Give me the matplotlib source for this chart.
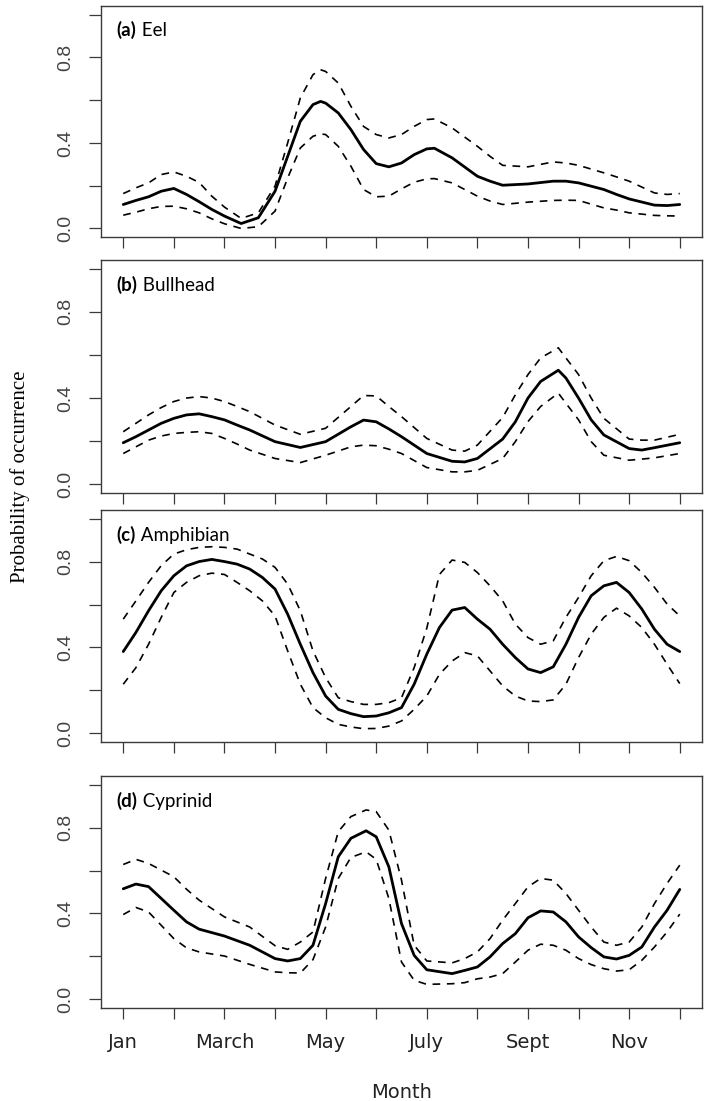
import matplotlib
matplotlib.use("Agg")
import matplotlib.pyplot as plt

# ---------------- data ----------------
month_ticks = [1, 2, 3, 4, 5, 6, 7, 8, 9, 10, 11, 12]
month_labels = ["Jan", "", "March", "", "May", "", "July", "", "Sept", "", "Nov", ""]
y_ticks = [0.0, 0.2, 0.4, 0.6, 0.8, 1.0]
y_labels = ["0.0", "", "0.4", "", "0.8", ""]
panel_tags = ["(a)", "(b)", "(c)", "(d)"]
panel_names = ["Eel", "Bullhead", "Amphibian", "Cyprinid"]

# (a) Eel
months_a = [1, 1.25, 1.5, 1.75, 2, 2.25, 2.5, 2.75, 3, 3.33, 3.67, 4, 4.25, 4.5, 4.75, 4.9,
            5, 5.25, 5.5, 5.75, 6, 6.25, 6.5, 6.75, 7, 7.15, 7.5, 8, 8.25, 8.5, 9, 9.5,
            9.75, 10, 10.5, 10.75, 11, 11.5, 11.75, 12]
fit_a = [0.112, 0.131, 0.148, 0.174, 0.187, 0.159, 0.125, 0.089, 0.058, 0.023, 0.05, 0.174,
         0.337, 0.501, 0.579, 0.594, 0.586, 0.54, 0.462, 0.369, 0.303, 0.288, 0.306, 0.345,
         0.372, 0.375, 0.33, 0.244, 0.221, 0.202, 0.208, 0.221, 0.221, 0.213, 0.182, 0.159,
         0.138, 0.109, 0.107, 0.112]
upper_a = [0.163, 0.19, 0.213, 0.252, 0.264, 0.244, 0.215, 0.151, 0.1, 0.047, 0.073, 0.198,
           0.40, 0.61, 0.719, 0.742, 0.734, 0.68, 0.571, 0.477, 0.439, 0.423, 0.439, 0.477,
           0.509, 0.512, 0.47, 0.384, 0.337, 0.295, 0.288, 0.311, 0.306, 0.295, 0.26, 0.241,
           0.221, 0.166, 0.159, 0.163]
lower_a = [0.062, 0.076, 0.092, 0.103, 0.104, 0.092, 0.073, 0.045, 0.022, 0.0, 0.008, 0.081,
           0.236, 0.376, 0.431, 0.442, 0.439, 0.384, 0.291, 0.182, 0.148, 0.151, 0.185, 0.216,
           0.232, 0.233, 0.213, 0.151, 0.128, 0.112, 0.123, 0.131, 0.132, 0.131, 0.096, 0.086,
           0.073, 0.061, 0.059, 0.058]

# (b) Bullhead
months_b = [1, 1.25, 1.5, 1.75, 2, 2.25, 2.5, 2.75, 3, 3.25, 3.5, 4, 4.5, 5, 5.5, 5.75, 6,
            6.25, 6.5, 7, 7.5, 7.75, 8, 8.5, 8.75, 9, 9.25, 9.6, 9.75, 10, 10.25, 10.5, 11,
            11.25, 11.5, 12]
fit_b = [0.193, 0.221, 0.252, 0.283, 0.306, 0.322, 0.327, 0.314, 0.299, 0.275, 0.252, 0.198,
         0.171, 0.198, 0.267, 0.298, 0.29, 0.257, 0.221, 0.143, 0.107, 0.104, 0.12, 0.21,
         0.29, 0.40, 0.477, 0.529, 0.493, 0.40, 0.299, 0.229, 0.166, 0.159, 0.17, 0.193]
upper_b = [0.244, 0.283, 0.322, 0.356, 0.384, 0.40, 0.407, 0.40, 0.384, 0.361, 0.337, 0.275,
           0.232, 0.26, 0.361, 0.412, 0.41, 0.361, 0.314, 0.213, 0.159, 0.154, 0.182, 0.31,
           0.415, 0.509, 0.586, 0.633, 0.586, 0.509, 0.40, 0.306, 0.21, 0.205, 0.205, 0.232]
lower_b = [0.143, 0.174, 0.205, 0.224, 0.236, 0.241, 0.244, 0.236, 0.213, 0.187, 0.159, 0.12,
           0.101, 0.135, 0.174, 0.182, 0.179, 0.163, 0.143, 0.078, 0.058, 0.058, 0.065, 0.12,
           0.198, 0.291, 0.361, 0.423, 0.376, 0.299, 0.198, 0.135, 0.112, 0.117, 0.123, 0.143]

# (c) Amphibian
months_c = [1, 1.25, 1.5, 1.75, 2, 2.25, 2.5, 2.75, 3, 3.25, 3.5, 3.75, 4, 4.25, 4.5, 4.75,
            5, 5.25, 5.5, 5.75, 6, 6.25, 6.5, 6.75, 7, 7.25, 7.5, 7.75, 8, 8.25, 8.5, 8.75,
            9, 9.25, 9.5, 9.75, 10, 10.25, 10.5, 10.75, 11, 11.25, 11.5, 11.75, 12]
fit_c = [0.381, 0.47, 0.571, 0.664, 0.734, 0.78, 0.80, 0.81, 0.80, 0.788, 0.765, 0.726, 0.672,
         0.555, 0.415, 0.283, 0.174, 0.112, 0.092, 0.078, 0.081, 0.096, 0.12, 0.229, 0.369,
         0.493, 0.574, 0.586, 0.532, 0.485, 0.415, 0.353, 0.30, 0.283, 0.31, 0.415, 0.54,
         0.641, 0.687, 0.703, 0.656, 0.579, 0.485, 0.415, 0.381]
upper_c = [0.532, 0.617, 0.703, 0.781, 0.835, 0.855, 0.866, 0.869, 0.866, 0.858, 0.835, 0.812,
           0.773, 0.695, 0.571, 0.384, 0.26, 0.166, 0.148, 0.135, 0.135, 0.143, 0.166, 0.306,
           0.49, 0.74, 0.807, 0.796, 0.749, 0.687, 0.617, 0.509, 0.446, 0.415, 0.431, 0.54,
           0.633, 0.734, 0.804, 0.824, 0.804, 0.749, 0.68, 0.602, 0.547]
lower_c = [0.229, 0.306, 0.415, 0.54, 0.656, 0.703, 0.734, 0.746, 0.74, 0.703, 0.664, 0.617,
           0.547, 0.384, 0.229, 0.12, 0.073, 0.042, 0.03, 0.022, 0.023, 0.034, 0.058, 0.112,
           0.174, 0.275, 0.337, 0.376, 0.361, 0.291, 0.221, 0.174, 0.151, 0.148, 0.156, 0.229,
           0.353, 0.462, 0.54, 0.583, 0.547, 0.493, 0.415, 0.322, 0.232]

# (d) Cyprinid
months_d = [1, 1.25, 1.5, 2, 2.25, 2.5, 3, 3.5, 4, 4.25, 4.5, 4.75, 5, 5.25, 5.5, 5.8, 6,
            6.25, 6.5, 6.75, 7, 7.5, 7.75, 8, 8.25, 8.5, 8.75, 9, 9.25, 9.5, 9.75, 10, 10.25,
            10.5, 10.75, 11, 11.25, 11.5, 11.75, 12]
fit_d = [0.515, 0.537, 0.525, 0.415, 0.361, 0.327, 0.295, 0.252, 0.19, 0.179, 0.19, 0.252,
         0.446, 0.664, 0.75, 0.785, 0.757, 0.617, 0.353, 0.205, 0.138, 0.12, 0.135, 0.151,
         0.198, 0.26, 0.306, 0.38, 0.412, 0.407, 0.361, 0.291, 0.241, 0.198, 0.188, 0.205,
         0.244, 0.337, 0.415, 0.512]
upper_d = [0.628, 0.652, 0.633, 0.571, 0.513, 0.462, 0.384, 0.337, 0.25, 0.233, 0.267, 0.314,
           0.563, 0.781, 0.851, 0.882, 0.874, 0.788, 0.555, 0.252, 0.179, 0.17, 0.19, 0.221,
           0.283, 0.369, 0.446, 0.524, 0.563, 0.555, 0.493, 0.415, 0.337, 0.267, 0.252, 0.267,
           0.337, 0.446, 0.54, 0.625]
lower_d = [0.395, 0.428, 0.407, 0.283, 0.24, 0.221, 0.202, 0.163, 0.128, 0.124, 0.123, 0.185,
           0.337, 0.563, 0.661, 0.687, 0.652, 0.47, 0.174, 0.089, 0.07, 0.073, 0.078, 0.096,
           0.104, 0.12, 0.174, 0.229, 0.257, 0.252, 0.229, 0.19, 0.162, 0.143, 0.132, 0.138,
           0.182, 0.244, 0.314, 0.397]

panels = [
    (months_a, fit_a, upper_a, lower_a),
    (months_b, fit_b, upper_b, lower_b),
    (months_c, fit_c, upper_c, lower_c),
    (months_d, fit_d, upper_d, lower_d),
]

# ---------------- layout ----------------
W, H = 709, 1101
fig = plt.figure(figsize=(W / 100, H / 100), dpi=100)
left_px, right_px = 101, 702
boxes_px = [(6, 237), (260, 493), (510, 742), (776, 1008)]

frame_col = "#3a3a3a"
tick_col = "#3a3a3a"

for i, ((mx, fit, up, lo), (top, bot)) in enumerate(zip(panels, boxes_px)):
    ax = fig.add_axes([left_px / W, 1 - bot / H, (right_px - left_px) / W, (bot - top) / H])
    ax.plot(mx, fit, color="black", lw=2.0, solid_joinstyle="round", solid_capstyle="round")
    ax.plot(mx, up, color="black", lw=1.2, dashes=(4.6, 4.0), dash_joinstyle="round")
    ax.plot(mx, lo, color="black", lw=1.2, dashes=(4.6, 4.0), dash_joinstyle="round")
    ax.set_xlim(0.56, 12.44)
    ax.set_ylim(-0.04, 1.04)

    ax.set_yticks(y_ticks)
    ax.set_yticklabels(y_labels, rotation=90, va="center",
                       family="Liberation Sans", fontsize=14, color="#444444")
    ax.set_xticks(month_ticks)
    if i == 3:
        ax.set_xticklabels(month_labels, family="DejaVu Sans", fontsize=14, color="#222222")
    else:
        ax.set_xticklabels([""] * len(month_ticks))
    ax.tick_params(axis="y", direction="out", length=8.6, width=0.9, pad=11, color=tick_col)
    ax.tick_params(axis="x", direction="out", length=8.0, width=0.9, pad=10, color=tick_col)
    for s in ax.spines.values():
        s.set_color(frame_col)
        s.set_linewidth(1.0)

    t1 = ax.text(0.026, 0.855, panel_tags[i], transform=ax.transAxes,
                 family="Lato", fontweight="bold", fontsize=13.5, va="bottom", ha="left")
    ax.annotate(" " + panel_names[i], xy=(1, 0), xycoords=t1, va="bottom", ha="left",
                family="Lato", fontsize=13.5)

fig.text(401.5 / W, 1 - 1092 / H, "Month", ha="center", va="center",
         family="DejaVu Sans", fontsize=14, color="#222222")
fig.text(20 / W, 1 - 477 / H, "Probability of occurrence", rotation=90,
         ha="center", va="center", family="Liberation Serif", fontsize=15)

fig.savefig("out.png", dpi=100)
